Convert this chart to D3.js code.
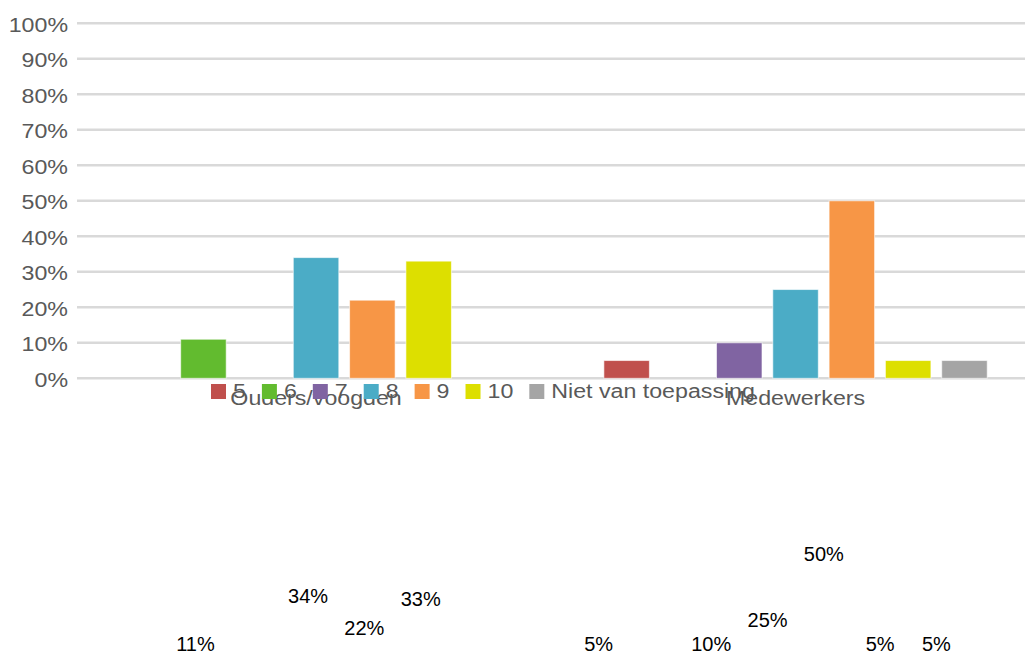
<!DOCTYPE html>
<html><head><meta charset="utf-8">
<script src="https://cdn.jsdelivr.net/npm/d3@7"></script>
<style>html,body{margin:0;padding:0;background:#fff;overflow:hidden}</style>
</head><body>
<svg id="c" width="1025" height="657"></svg>
<script>
const categories = ["Ouders/voogden", "Medewerkers"];
const seriesNames = ["5", "6", "7", "8", "9", "10", "Niet van toepassing"];
const seriesColors = ["#c0504d", "#62bb2f", "#8064a2", "#4bacc6", "#f79646", "#dddf00", "#a5a5a5"];
const valuesOuders = [0, 11, 0, 34, 22, 33, 0];
const valuesMedewerkers = [5, 0, 10, 25, 50, 5, 5];
const yTicks = [0, 10, 20, 30, 40, 50, 60, 70, 80, 90, 100];

const svg = d3.select("#c");
const FONT = "'Liberation Sans', Arial, sans-serif";
const grey = "#595959";
const SX = 1.16;

const y = d3.scaleLinear().domain([0, 100]).range([378.3, 23.3]);
const x0 = d3.scaleBand().domain(categories).range([76.3, 1035.3]).padding(0);
const x1 = d3.scaleBand().domain(seriesNames).range([0, x0.bandwidth()])
  .paddingInner(0.192).paddingOuter(0.854);

// gridlines
svg.append("g").selectAll("line").data(yTicks).join("line")
  .attr("x1", 77).attr("x2", 1025)
  .attr("y1", d => y(d)).attr("y2", d => y(d))
  .attr("stroke", "#d9d9d9").attr("stroke-width", 2.5);

// y labels
svg.append("g").selectAll("text").data(yTicks).join("text")
  .attr("transform", d => `translate(68,${y(d) + 8.3}) scale(${SX},1)`)
  .attr("text-anchor", "end")
  .attr("font-family", FONT).attr("font-size", 20).attr("fill", grey)
  .text(d => d + "%");

const data = [valuesOuders, valuesMedewerkers];
const rows = [];
categories.forEach((c, ci) => seriesNames.forEach((s, si) => {
  rows.push({cat: c, ci, s, si, v: data[ci][si]});
}));

// bars
svg.append("g").selectAll("rect").data(rows.filter(r => r.v > 0)).join("rect")
  .attr("x", r => x0(r.cat) + x1(r.s))
  .attr("y", r => y(r.v))
  .attr("width", x1.bandwidth())
  .attr("height", r => y(0) - y(r.v))
  .attr("fill", r => seriesColors[r.si])
  .attr("stroke", "#ffffff").attr("stroke-opacity", 0.6).attr("stroke-width", 1);

// category labels
svg.append("g").selectAll("text").data(categories).join("text")
  .attr("transform", c => `translate(${x0(c) + x0.bandwidth() / 2},405) scale(${SX},1)`)
  .attr("text-anchor", "middle")
  .attr("font-family", FONT).attr("font-size", 20).attr("fill", grey)
  .text(c => c);

// legend
const lg = svg.append("g");
let lx = 211;
seriesNames.forEach((s, i) => {
  lg.append("rect").attr("x", lx).attr("y", 384).attr("width", 15).attr("height", 15)
    .attr("fill", seriesColors[i]);
  const t = lg.append("text")
    .attr("transform", `translate(${lx + 22},398) scale(${SX},1)`)
    .attr("font-family", FONT).attr("font-size", 20).attr("fill", grey)
    .text(s);
  const w = t.node().getComputedTextLength() * SX;
  lx += 15 + 7 + w + 16;
});

// data labels (displaced below the chart as in the reference)
const labelY = d3.scaleLinear().domain([25, 50]).range([620, 554]);
svg.append("g").selectAll("text").data(rows.filter(r => r.v > 0)).join("text")
  .attr("x", r => x0(r.cat) + x1(r.s) + x1.bandwidth() / 2 - 8 - 20 * r.ci)
  .attr("y", r => Math.min(labelY(r.v), 644) + 7)
  .attr("text-anchor", "middle")
  .attr("font-family", FONT).attr("font-size", 20).attr("fill", "#000")
  .text(r => r.v + "%");
</script>
</body></html>
